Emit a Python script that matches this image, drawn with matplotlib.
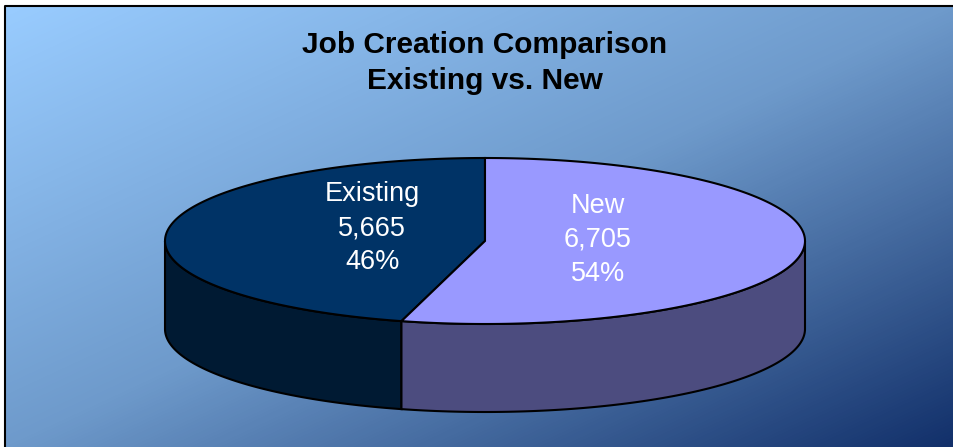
import numpy as np
import matplotlib.pyplot as plt
from matplotlib.colors import LinearSegmentedColormap
from matplotlib.patches import Polygon

# Data
labels = ['Existing', 'New']
jobs = [5665, 6705]
top_colors = ['#003366', '#9999FF']
side_colors = ['#001a33', '#4c4c7f']

W, H = 954, 447
fig = plt.figure(figsize=(W / 100, H / 100), dpi=100)
ax = fig.add_axes([0, 0, 1, 1])

# diagonal gradient background with black frame on left/top
xx, yy = np.meshgrid(np.linspace(0, 1, W - 5), np.linspace(0, 1, H - 6))
bg = LinearSegmentedColormap.from_list('bg', ['#99ccff', '#6e9acb', '#12306a'])
rgb = bg((xx + yy) / 2)
ax.imshow(rgb, extent=(5, W, H, 6), aspect='auto', interpolation='none', zorder=0)
ax.plot([5, 5, W], [H, 6, 6], color='black', lw=1.5, zorder=1,
        solid_capstyle='butt')
ax.set_xlim(0, W)
ax.set_ylim(H, 0)
ax.axis('off')

# 3d pie geometry (pixel units)
cx, cy, a, b, depth = 485, 241, 320, 83, 88


def ell(theta, dz=0.0):
    t = np.radians(theta)
    return cx + a * np.cos(t), cy - b * np.sin(t) + dz


vals = np.array(jobs, dtype=float)
fracs = vals / vals.sum()
edges = 90 + 360 * np.concatenate([[0], np.cumsum(fracs)])

for i in range(len(vals)):
    t1, t2 = edges[i], edges[i + 1]
    # front side wall
    s1, s2 = max(t1, 180), min(t2, 360)
    if s2 > s1:
        th = np.linspace(s1, s2, 100)
        x_top, y_top = ell(th)
        x_bot, y_bot = ell(th[::-1], depth)
        pts = np.column_stack([np.r_[x_top, x_bot], np.r_[y_top, y_bot]])
        ax.add_patch(Polygon(pts, closed=True, facecolor=side_colors[i],
                             edgecolor='black', lw=1.5, zorder=2))

for i in range(len(vals)):
    t1, t2 = edges[i], edges[i + 1]
    th = np.linspace(t1, t2, 200)
    x_arc, y_arc = ell(th)
    pts = np.column_stack([np.r_[cx, x_arc], np.r_[cy, y_arc]])
    ax.add_patch(Polygon(pts, closed=True, facecolor=top_colors[i],
                         edgecolor='black', lw=1.5, zorder=3))
    mid = np.radians((t1 + t2) / 2)
    lx = cx + a * 0.355 * np.cos(mid)
    ly = cy - b * 0.53 * np.sin(mid) - 7
    ax.text(lx, ly, f'{labels[i]}\n{jobs[i]:,}\n{fracs[i] * 100:.0f}%',
            ha='center', va='center', color='white', fontsize=19.5,
            family='Liberation Sans', linespacing=1.4, zorder=4)

ax.text(485, 63, 'Job Creation Comparison\nExisting vs. New', ha='center',
        va='center', fontsize=21.5, fontweight='bold', family='Liberation Sans',
        linespacing=1.35, zorder=4)

fig.savefig('out.png', dpi=100, facecolor='white')
